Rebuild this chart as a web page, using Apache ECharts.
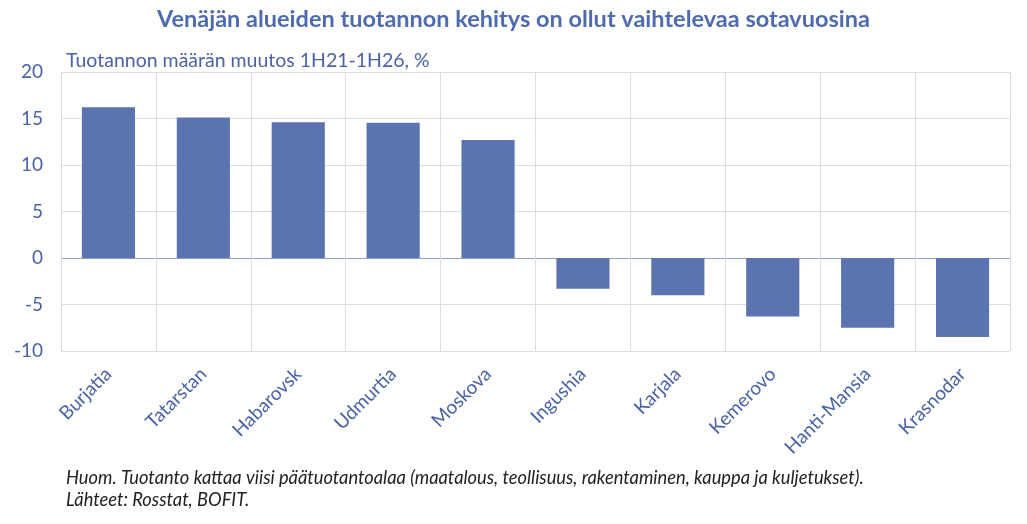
<!DOCTYPE html>
<html><head><meta charset="utf-8">
<script src="https://cdn.jsdelivr.net/npm/echarts@6/dist/echarts.min.js"></script>
<style>html,body{margin:0;padding:0;background:#fff}#c{width:1027px;height:524px}</style>
</head><body><div id="c"></div>
<script>
const categories = ['Burjatia','Tatarstan','Habarovsk','Udmurtia','Moskova','Ingushia','Karjala','Kemerovo','Hanti-Mansia','Krasnodar'];
const values = [16.2, 15.1, 14.6, 14.55, 12.7, -3.3, -4.0, -6.3, -7.5, -8.5];
const yMin = -10, yMax = 20, yStep = 5;
const titleText = 'Venäjän alueiden tuotannon kehitys on ollut vaihtelevaa sotavuosina';
const subtitleText = 'Tuotannon määrän muutos 1H21-1H26, %';
const note1 = 'Huom. Tuotanto kattaa viisi päätuotantoalaa (maatalous, teollisuus, rakentaminen, kauppa ja kuljetukset).';
const note2 = 'Lähteet: Rosstat, BOFIT.';

const font = 'Lato, "Open Sans", sans-serif';
const blue = '#4a63a8';
const grid = '#d9dde8';
const chart = echarts.init(document.getElementById('c'));
chart.setOption({
  animation: false,
  title: [
    {text: titleText, left: 'center', top: 7, padding: 0, textStyle:{fontFamily: font, fontSize: 23.5, fontWeight: 'bold', color: '#4f6bb0'}},
    {text: subtitleText, left: 66, top: 51, padding: 0, textStyle:{fontFamily: font, fontSize: 19.5, fontWeight: 'normal', color: blue}},
    {text: note1, left: 66, top: 469, padding: 0, textStyle:{fontFamily: font, fontSize: 18.3, fontWeight: 'normal', fontStyle: 'italic', color: '#222'}},
    {text: note2, left: 66, top: 491, padding: 0, textStyle:{fontFamily: font, fontSize: 18.3, fontWeight: 'normal', fontStyle: 'italic', color: '#222'}}
  ],
  grid: {left: 61, right: 17, top: 72, bottom: 173},
  xAxis: {
    type: 'category', data: categories,
    axisLine: {show: false, onZero: false},
    axisTick: {show: false},
    splitLine: {show: true, interval: 0, lineStyle: {color: grid, width: 1}},
    axisLabel: {rotate: 45, interval: 0, margin: 20, fontFamily: font, fontSize: 19, color: blue}
  },
  yAxis: {
    type: 'value', min: yMin, max: yMax, interval: yStep,
    axisLine: {show: false}, axisTick: {show: false},
    axisLabel: {fontFamily: font, fontSize: 19, color: blue, margin: 18},
    splitLine: {lineStyle: {color: [grid, grid, '#8fa0c8', grid, grid, grid, grid], width: 1}}
  },
  series: [{
    type: 'bar', data: values, barWidth: '56%',
    itemStyle: {color: '#5b74b0'}
  }]
});
</script></body></html>
